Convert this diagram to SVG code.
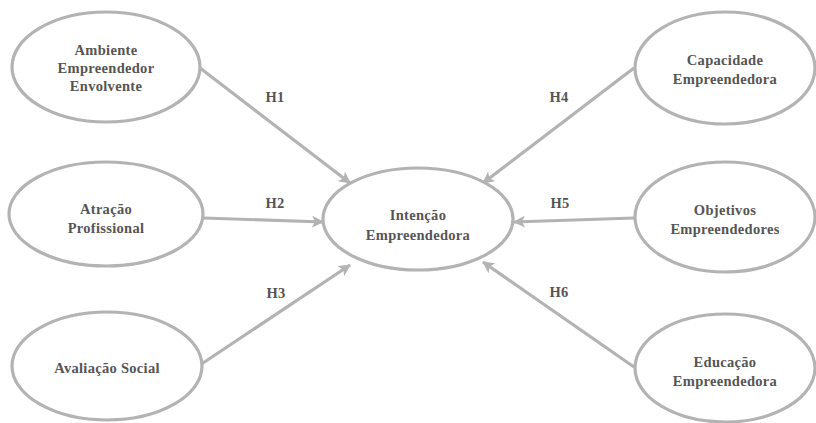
<svg xmlns="http://www.w3.org/2000/svg" width="816" height="423" viewBox="0 0 816 423">
<style>
.n ellipse{fill:#fff;stroke:#b3b3b3;stroke-width:3.2}
text{font-family:"Liberation Serif","Times New Roman",serif;font-weight:bold;font-size:14.5px;fill:#555;text-anchor:middle;letter-spacing:0.3px}
.c line{stroke:#b3b3b3;stroke-width:3.2;marker-end:url(#ah)}
</style>
<defs>
<marker id="ah" markerUnits="userSpaceOnUse" viewBox="0 0 12 12" refX="11" refY="6" markerWidth="12" markerHeight="12" orient="auto">
<path d="M0,0 L12,6 L0,12 L3,6 Z" fill="#b3b3b3"/>
</marker>
</defs>
<rect width="816" height="423" fill="#fff"/>
<g class="c" id="connectors">
<line x1="200" y1="68" x2="350" y2="183"/>
<line x1="203" y1="218" x2="323" y2="222"/>
<line x1="200" y1="365" x2="350" y2="265"/>
<line x1="634" y1="68" x2="483" y2="183"/>
<line x1="634" y1="218" x2="514" y2="222"/>
<line x1="634" y1="367" x2="483" y2="262"/>
</g>
<g id="labels">
<text x="275" y="102">H1</text>
<text x="275" y="208">H2</text>
<text x="276" y="298">H3</text>
<text x="559" y="102">H4</text>
<text x="560" y="208">H5</text>
<text x="559" y="297">H6</text>
</g>
<g class="n" id="ambiente">
<ellipse cx="106" cy="67" rx="94" ry="55"/>
<text x="106" y="55">Ambiente</text>
<text x="106" y="73">Empreendedor</text>
<text x="106" y="91">Envolvente</text>
</g>
<g class="n" id="atracao">
<ellipse cx="106" cy="214" rx="97" ry="52"/>
<text x="106" y="214">Atração</text>
<text x="106" y="233">Profissional</text>
</g>
<g class="n" id="avaliacao">
<ellipse cx="107" cy="366" rx="95" ry="54"/>
<text x="107" y="373">Avaliação Social</text>
</g>
<g class="n" id="intencao">
<ellipse cx="418" cy="219" rx="95" ry="51"/>
<text x="418" y="220">Intenção</text>
<text x="418" y="240">Empreendedora</text>
</g>
<g class="n" id="capacidade">
<ellipse cx="725" cy="68" rx="90" ry="56"/>
<text x="725" y="65">Capacidade</text>
<text x="725" y="84">Empreendedora</text>
</g>
<g class="n" id="objetivos">
<ellipse cx="725" cy="217" rx="90" ry="55"/>
<text x="725" y="215">Objetivos</text>
<text x="725" y="234">Empreendedores</text>
</g>
<g class="n" id="educacao">
<ellipse cx="725" cy="368" rx="90" ry="54"/>
<text x="725" y="367">Educação</text>
<text x="725" y="386">Empreendedora</text>
</g>
</svg>
